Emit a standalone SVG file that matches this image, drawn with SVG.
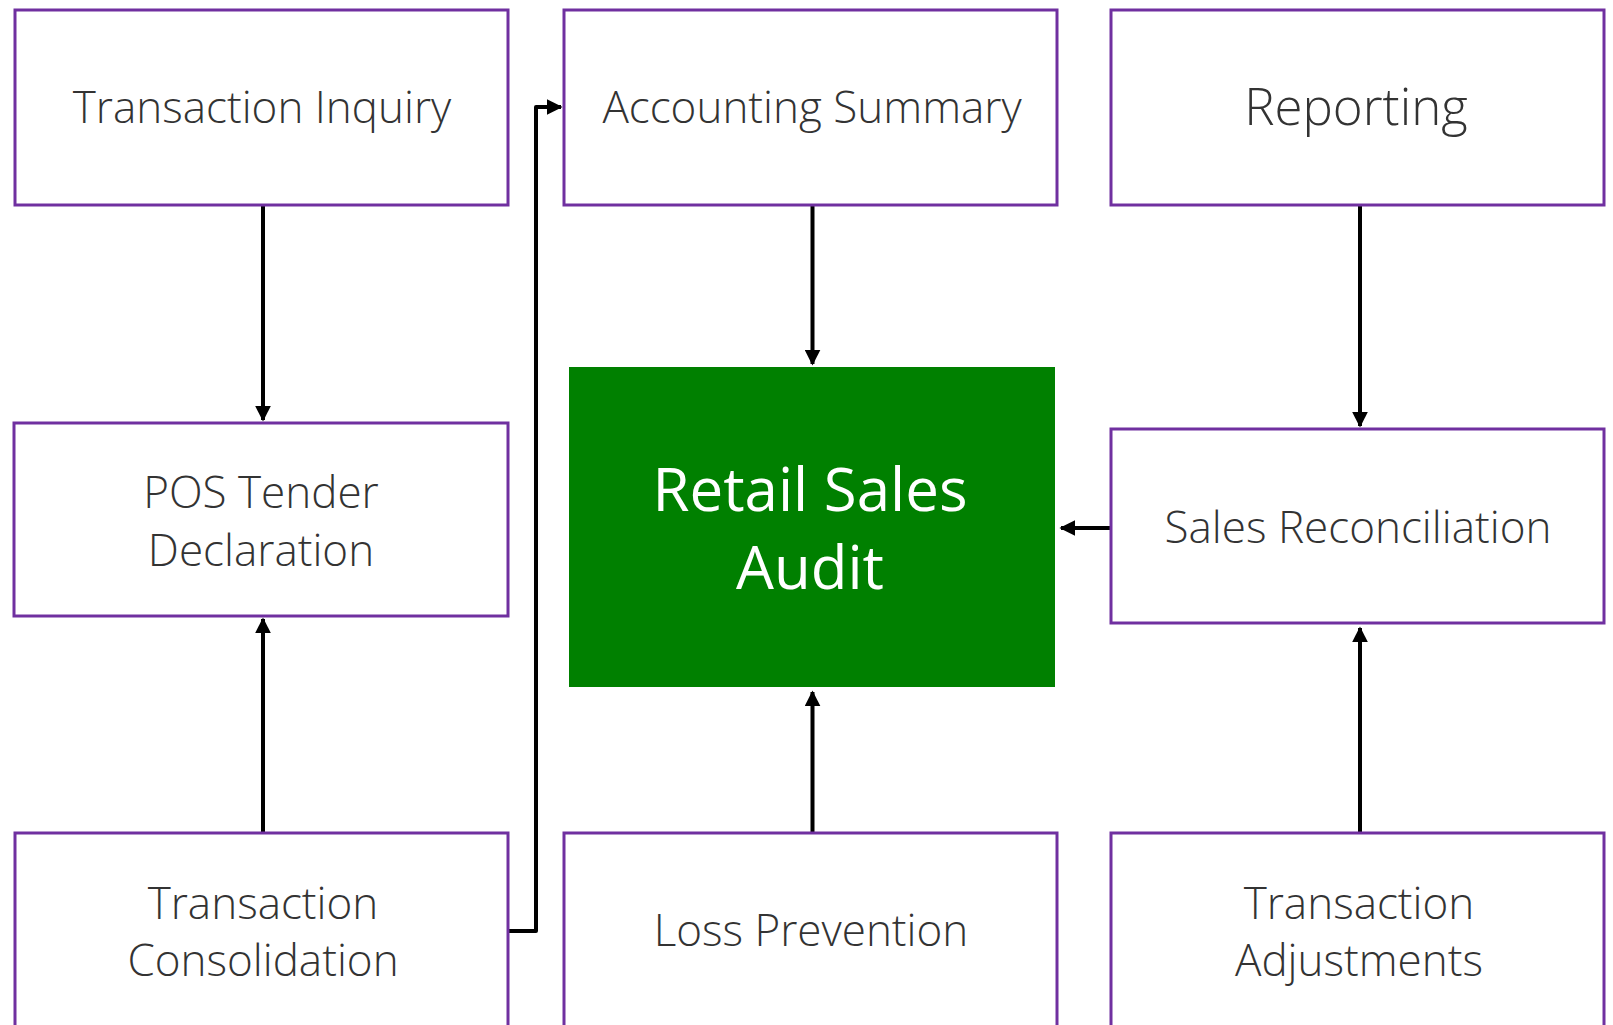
<svg xmlns="http://www.w3.org/2000/svg" width="1613" height="1025" viewBox="0 0 1613 1025">
<style>
.box{fill:#fff;stroke:#7030a0;stroke-width:3}
.lbl{font-family:"Open Sans","Noto Sans","Liberation Sans",sans-serif;font-weight:300;font-size:44px;fill:#333;text-anchor:middle}
.big{font-size:51px}
.core{fill:#008000}
.corelbl{font-family:"Open Sans","Noto Sans","Liberation Sans",sans-serif;font-weight:400;font-size:60px;fill:#fff;text-anchor:middle}
.con{fill:none;stroke:#000;stroke-width:4;stroke-linejoin:round}
</style>
<defs>
<marker id="ah" viewBox="0 0 10 10" refX="9" refY="5" markerWidth="4" markerHeight="4" orient="auto" markerUnits="strokeWidth">
<path d="M0,0 L10,5 L0,10 z" fill="#000"/>
</marker>
</defs>
<rect width="1613" height="1025" fill="#fff"/>
<g id="connectors">
<path class="con" d="M263,205 V420" marker-end="url(#ah)"/>
<path class="con" d="M812.5,205 V364" marker-end="url(#ah)"/>
<path class="con" d="M1360,205 V426" marker-end="url(#ah)"/>
<path class="con" d="M1111,528 H1061" marker-end="url(#ah)"/>
<path class="con" d="M812.5,832 V692" marker-end="url(#ah)"/>
<path class="con" d="M1360,832 V628" marker-end="url(#ah)"/>
<path class="con" d="M263,832 V619" marker-end="url(#ah)"/>
<path class="con" d="M508,931 H536 V107 H561" marker-end="url(#ah)"/>
</g>
<g id="transaction-inquiry">
<rect class="box" x="15" y="10" width="493" height="195"/>
<text class="lbl" x="262" y="123">Transaction Inquiry</text>
</g>
<g id="accounting-summary">
<rect class="box" x="564" y="10" width="493" height="195"/>
<text class="lbl" x="812" y="123">Accounting Summary</text>
</g>
<g id="reporting">
<rect class="box" x="1111" y="10" width="493" height="195"/>
<text class="lbl big" x="1356" y="125">Reporting</text>
</g>
<g id="pos-tender-declaration">
<rect class="box" x="14" y="423" width="494" height="193"/>
<text class="lbl" x="261" y="508">POS Tender</text>
<text class="lbl" x="261" y="566">Declaration</text>
</g>
<g id="retail-sales-audit">
<rect class="core" x="569" y="367" width="486" height="320"/>
<text class="corelbl" x="810" y="511">Retail Sales</text>
<text class="corelbl" x="810" y="589">Audit</text>
</g>
<g id="sales-reconciliation">
<rect class="box" x="1111" y="429" width="493" height="194"/>
<text class="lbl" x="1358" y="543">Sales Reconciliation</text>
</g>
<g id="transaction-consolidation">
<rect class="box" x="15" y="833" width="493" height="195"/>
<text class="lbl" x="263" y="919">Transaction</text>
<text class="lbl" x="263" y="976">Consolidation</text>
</g>
<g id="loss-prevention">
<rect class="box" x="564" y="833" width="493" height="195"/>
<text class="lbl" x="811" y="946">Loss Prevention</text>
</g>
<g id="transaction-adjustments">
<rect class="box" x="1111" y="833" width="493" height="195"/>
<text class="lbl" x="1359" y="919">Transaction</text>
<text class="lbl" x="1359" y="976">Adjustments</text>
</g>
</svg>
